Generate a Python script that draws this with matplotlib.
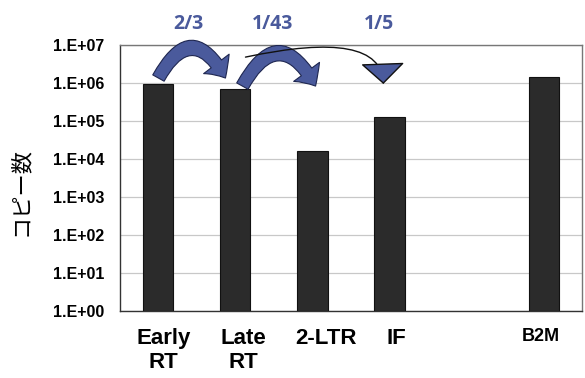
import numpy as np
import matplotlib.pyplot as plt
import matplotlib.transforms as mtransforms
from matplotlib.patches import FancyArrowPatch
from matplotlib.ticker import FixedLocator

# categories and copy numbers
labels = ["Early\nRT", "Late\nRT", "2-LTR", "IF", "", "B2M"]
copies = [9.5e5, 7.0e5, 1.6e4, 1.27e5, np.nan, 1.4e6]
ratios = ["2/3", "1/43", "1/5"]

x = np.arange(len(labels))
blue = "#4a5a9c"

fig = plt.figure(figsize=(5.85, 3.78), dpi=100)
ax = fig.add_axes([0.205, 0.177, 0.79, 0.704])

ax.bar(x, copies, width=0.39, bottom=1, color="#2b2b2b", edgecolor="#111111", lw=0.8, zorder=3)
ax.set_yscale("log")
ax.set_ylim(1, 1e7)
ax.set_xlim(-0.5, len(labels) - 0.5)

yt = [10.0 ** k for k in range(8)]
ax.yaxis.set_major_locator(FixedLocator(yt))
ax.yaxis.set_minor_locator(FixedLocator([]))
ax.set_yticklabels([f"1.E+{k:02d}" for k in range(8)], fontsize=11.5, fontweight="bold",
                   family="Liberation Sans")
ax.tick_params(axis="y", length=0, pad=11)
ax.grid(axis="y", color="#c8c8c8", lw=0.9, zorder=0)

ax.set_xticks(x)
ax.set_xticklabels(labels, fontsize=16, fontweight="bold", family="Liberation Sans", linespacing=1.18)
ax.tick_params(axis="x", length=0, pad=12)
tl = ax.get_xticklabels()
tl[5].set_fontsize(13)
# labels sit a little right of their bars in the original
for t, dx in zip(tl, [5, 8, 14, 7, 0, -3]):
    t.set_transform(t.get_transform() + mtransforms.ScaledTranslation(dx / 100, 0, fig.dpi_scale_trans))

for s in ax.spines.values():
    s.set_color("#777777")
    s.set_linewidth(1.0)
ax.spines["left"].set_color("#333333")
ax.spines["bottom"].set_color("#333333")

ax.set_ylabel("コピー数", family=["Noto Sans CJK JP", "DejaVu Sans"], fontsize=16)
ax.yaxis.set_label_coords(-0.19, 0.45)

# curved block arrows between bars
blk = "simple,head_width=2.1,head_length=1.1,tail_width=0.85"
a1 = FancyArrowPatch((0.0, 1.35e6), (0.87, 1.35e6), connectionstyle="arc3,rad=-0.9",
                     arrowstyle=blk, mutation_scale=11, shrinkA=0, shrinkB=0,
                     fc=blue, ec="#1e2650", lw=0.8, clip_on=False, zorder=5)
a2 = FancyArrowPatch((1.09, 8.3e5), (2.04, 8.3e5), connectionstyle="arc3,rad=-0.9",
                     arrowstyle=blk, mutation_scale=11, shrinkA=0, shrinkB=0,
                     fc=blue, ec="#1e2650", lw=0.8, clip_on=False, zorder=5)
a3 = FancyArrowPatch((1.13, 4.8e6), (2.92, 9.4e5), connectionstyle="angle3,angleA=12,angleB=-88",
                     arrowstyle="-|>,head_width=0.36,head_length=0.34", shrinkA=0, shrinkB=0,
                     mutation_scale=40, fc=blue, ec="#111111", lw=1.0, clip_on=False, zorder=5)
for a in (a1, a2, a3):
    ax.add_patch(a)

for xx, r in zip([0.39, 1.48, 2.86], ratios):
    ax.text(xx, 3.6e7, r, ha="center", va="center", fontsize=14, color=blue,
            fontweight="bold", family="Open Sans", clip_on=False)

fig.savefig("out.png", dpi=100)
